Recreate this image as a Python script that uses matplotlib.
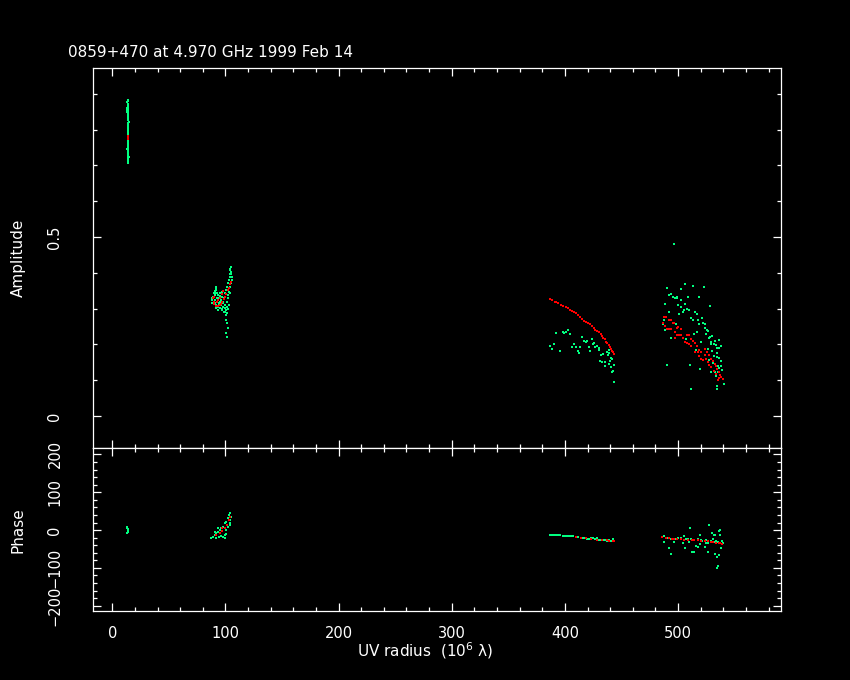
import matplotlib
matplotlib.use("Agg")
import matplotlib.pyplot as plt
from matplotlib.ticker import MultipleLocator
import numpy as np

title = "0859+470 at 4.970 GHz 1999 Feb 14"

# ---------------- Amplitude panel data (UV radius in 1e6 lambda, amplitude) ----------------
# cluster A (short baselines)
ampA_obs_x = [13.5, 14.0, 13.2, 13.8, 14.0, 13.2, 13.2, 13.2, 13.9, 13.9, 14.0, 14.0, 14.3, 14.5, 14.2,
              14.3, 14.3, 14.3, 14.3, 14.3, 14.3, 14.3, 14.3, 14.3, 14.3, 14.3, 14.3, 13.4, 14.3, 14.3,
              13.5, 14.0, 14.4, 13.5, 14.2, 13.6, 14.2, 13.8,
              14.0, 14.0, 14.0, 14.1, 14.1, 14.2, 14.3, 14.3, 14.3, 14.3, 14.3, 14.3, 14.3, 14.3,
              14.3, 14.3, 14.3, 14.3, 14.3, 14.3, 14.2]
ampA_obs_y = [0.883, 0.880, 0.877, 0.872, 0.867, 0.860, 0.855, 0.850, 0.857, 0.845, 0.838, 0.832, 0.826,
              0.822, 0.818, 0.812, 0.806, 0.800, 0.794, 0.788, 0.782, 0.776, 0.770, 0.764, 0.758, 0.752,
              0.746, 0.747, 0.740, 0.734, 0.730, 0.727, 0.724, 0.720, 0.717, 0.713, 0.710, 0.708,
              0.869, 0.864, 0.852, 0.841, 0.835, 0.829, 0.815, 0.809, 0.803, 0.797, 0.791, 0.785,
              0.779, 0.773, 0.767, 0.761, 0.755, 0.749, 0.743, 0.737, 0.731]
ampA_mod_x = [13.6, 13.9, 13.7]
ampA_mod_y = [0.781, 0.777, 0.773]

# cluster B
ampB_obs_x = [104.9, 104.4, 103.8, 104.9, 105.5, 103.8, 103.2, 105.5, 102.6, 104.9, 101.4, 103.8, 100.8,
              103.2, 102.3, 99.6, 91.4, 92.0, 90.5, 89.0, 88.4, 89.6, 87.8, 93.1, 94.3, 94.9, 96.4, 97.9,
              99.3, 100.8, 101.4, 96.7, 95.5, 93.7, 92.0, 90.8, 97.9, 99.0, 97.3, 96.7, 94.9, 92.5, 91.4,
              93.1, 94.3, 99.0, 100.2, 100.8, 101.4, 102.0, 100.8, 101.4,
              89.5, 90.5, 91.5, 92.0, 93.0, 95.0, 96.0, 98.0, 99.5, 101.0, 102.0, 103.0, 88.5, 91.0,
              94.0, 97.0, 100.0, 101.0, 102.5, 104.0, 105.0, 104.5]
ampB_obs_y = [0.417, 0.408, 0.398, 0.398, 0.389, 0.389, 0.380, 0.380, 0.371, 0.371, 0.361, 0.361, 0.352,
              0.347, 0.338, 0.343, 0.352, 0.343, 0.338, 0.333, 0.324, 0.319, 0.315, 0.338, 0.329, 0.319,
              0.310, 0.305, 0.301, 0.296, 0.287, 0.296, 0.301, 0.305, 0.310, 0.315, 0.319, 0.329, 0.333,
              0.347, 0.343, 0.329, 0.301, 0.296, 0.310, 0.291, 0.282, 0.268, 0.259, 0.247, 0.231, 0.222,
              0.345, 0.350, 0.360, 0.355, 0.345, 0.335, 0.325, 0.315, 0.310, 0.305, 0.300, 0.310, 0.330,
              0.325, 0.315, 0.300, 0.290, 0.320, 0.330, 0.345, 0.402, 0.412]
ampB_mod_x = [89.0, 89.6, 90.2, 91.4, 93.1, 94.9, 96.1, 97.3, 98.4, 99.6, 100.8, 102.0, 103.2, 103.8,
              104.9, 89.6, 92.5, 93.7, 95.5, 96.7, 97.9]
ampB_mod_y = [0.329, 0.319, 0.312, 0.308, 0.308, 0.310, 0.314, 0.319, 0.327, 0.334, 0.342, 0.351, 0.358,
              0.368, 0.375, 0.333, 0.319, 0.324, 0.329, 0.340, 0.349]

# cluster C
ampC_obs_x = [392.2, 386.8, 388.9, 390.4, 395.7, 398.4, 399.3, 401.0, 402.8, 404.6, 406.3, 408.1, 409.9,
              411.7, 412.8, 413.4, 415.2, 417.0, 418.8, 419.9, 421.7, 422.3, 424.1, 425.0, 425.8, 427.0,
              428.8, 430.0, 430.6, 432.3, 434.1, 437.1, 438.3, 438.8, 439.4, 440.6, 441.8, 431.2, 432.9,
              435.3, 435.9, 438.8, 440.0, 441.2, 443.0, 441.8, 442.4, 443.6]
ampC_obs_y = [0.231, 0.197, 0.188, 0.200, 0.183, 0.235, 0.231, 0.235, 0.240, 0.228, 0.192, 0.200, 0.194,
              0.183, 0.175, 0.192, 0.222, 0.210, 0.206, 0.209, 0.194, 0.181, 0.216, 0.200, 0.203, 0.192,
              0.196, 0.186, 0.190, 0.170, 0.173, 0.180, 0.170, 0.177, 0.184, 0.163, 0.160, 0.155, 0.151,
              0.151, 0.140, 0.145, 0.153, 0.138, 0.142, 0.123, 0.127, 0.094]
ampC_mod_x = [386.8, 388.5, 390.9, 392.5, 394.2, 396.5, 398.6, 400.6, 402.8, 404.5, 406.3, 408.0, 409.9,
              411.6, 413.4, 415.2, 417.0, 418.8, 420.5, 422.3, 424.1, 425.5, 427.0, 428.5, 430.0, 431.5,
              432.9, 434.1, 435.3, 436.5, 437.6, 438.8, 440.0, 441.0, 441.8, 442.5, 443.0]
ampC_mod_y = [0.326, 0.324, 0.320, 0.318, 0.315, 0.311, 0.307, 0.304, 0.301, 0.297, 0.293, 0.290, 0.287,
              0.282, 0.276, 0.271, 0.266, 0.263, 0.259, 0.256, 0.253, 0.246, 0.240, 0.237, 0.234, 0.229,
              0.223, 0.219, 0.214, 0.208, 0.203, 0.199, 0.194, 0.188, 0.182, 0.178, 0.173]

# cluster D
ampD_obs_x = [496.7, 489.9, 491.7, 493.5, 495.2, 497.0, 498.8, 499.4, 502.9, 506.5, 509.1, 513.0, 518.9,
              523.3, 488.1, 500.3, 502.3, 502.9, 505.3, 508.2, 510.0, 506.5, 492.3, 501.2, 504.1, 515.3,
              516.5, 528.3, 511.8, 513.6, 517.7, 521.2, 518.9, 521.8, 523.6, 487.9, 486.4, 488.7, 498.2,
              523.6, 525.4, 526.6, 517.1, 524.8, 514.4, 530.1, 528.3, 527.2, 494.1, 507.1, 533.1, 536.6,
              529.5, 532.2, 533.7, 534.8, 536.6, 537.8, 528.9, 520.7, 515.9, 526.3, 530.1, 534.8, 531.9,
              534.3, 536.6, 527.7, 538.4, 530.7, 535.4, 538.4, 536.6, 539.0, 532.5, 535.4, 529.5, 533.7,
              540.2, 490.5, 510.6, 519.5, 534.3, 534.8, 511.8]
ampD_obs_y = [0.480, 0.357, 0.338, 0.340, 0.334, 0.329, 0.332, 0.331, 0.355, 0.368, 0.334, 0.364, 0.332,
              0.361, 0.312, 0.310, 0.323, 0.304, 0.297, 0.299, 0.297, 0.312, 0.291, 0.284, 0.291, 0.291,
              0.286, 0.308, 0.273, 0.269, 0.269, 0.275, 0.258, 0.260, 0.258, 0.267, 0.256, 0.241, 0.256,
              0.245, 0.241, 0.237, 0.236, 0.230, 0.228, 0.224, 0.221, 0.217, 0.217, 0.215, 0.210, 0.213,
              0.208, 0.200, 0.198, 0.191, 0.191, 0.196, 0.200, 0.206, 0.185, 0.187, 0.182, 0.176, 0.169,
              0.165, 0.161, 0.156, 0.154, 0.148, 0.141, 0.141, 0.135, 0.128, 0.124, 0.122, 0.122, 0.111,
              0.089, 0.142, 0.142, 0.131, 0.085, 0.076, 0.077]
ampD_mod_x = [487.9, 489.3, 486.4, 488.7, 491.7, 493.5, 495.2, 496.7, 489.9, 492.3, 494.1, 497.6, 498.8,
              500.3, 502.3, 502.9, 497.0, 498.8, 500.6, 504.7, 506.5, 508.2, 510.0, 509.4, 511.8, 513.0,
              514.7, 516.5, 518.3, 520.1, 523.6, 525.4, 527.2, 528.9, 530.7, 532.5, 533.7, 534.8, 536.0,
              537.2, 538.4, 539.6, 535.4, 523.6, 524.8, 526.6, 527.7, 529.5, 531.9, 533.7, 536.0, 514.7,
              517.7, 518.9, 520.7, 522.4, 511.2, 507.7]
ampD_mod_y = [0.277, 0.277, 0.260, 0.252, 0.267, 0.267, 0.260, 0.260, 0.243, 0.243, 0.243, 0.234, 0.245,
              0.250, 0.243, 0.226, 0.217, 0.226, 0.226, 0.217, 0.208, 0.226, 0.226, 0.200, 0.215, 0.210,
              0.204, 0.195, 0.185, 0.178, 0.187, 0.180, 0.172, 0.159, 0.154, 0.146, 0.139, 0.131, 0.124,
              0.116, 0.109, 0.103, 0.100, 0.170, 0.159, 0.152, 0.144, 0.137, 0.126, 0.118, 0.107, 0.178,
              0.178, 0.169, 0.159, 0.156, 0.197, 0.204]

# ---------------- Phase panel data (degrees) ----------------
phsA_obs_x = [13.3, 13.9, 14.2, 13.6, 12.7, 13.0]
phsA_obs_y = [7.9, 2.6, -2.7, -6.2, -8.9, 4.4]

phsB_obs_x = [87.5, 89.0, 90.4, 91.9, 93.4, 94.9, 96.3, 97.8, 99.3, 100.8, 102.2, 103.1, 103.7, 104.3,
              105.2, 97.8, 99.3, 96.3, 100.8, 100.8, 102.2, 103.7, 104.3, 91.3, 94.3, 90.4, 93.4, 94.9, 99.3]
phsB_obs_y = [-22.1, -17.7, -13.3, -8.9, -4.5, 0.0, 4.4, 8.8, 17.6, 22.0, 30.8, 39.6, 44.0, 26.4, 35.2,
              -17.7, -13.3, -15.0, -11.5, 0.0, 8.8, 13.2, 17.6, -20.3, -17.7, -4.5, 4.4, -8.9, -22.1]
phsB_mod_x = [91.9, 94.9, 97.2, 99.3, 101.4, 103.1, 104.3, 96.6]
phsB_mod_y = [-13.3, -8.9, -2.7, 4.4, 13.2, 26.4, 35.2, 4.4]

phsC_obs_x = [386.8, 388.6, 390.4, 392.2, 393.9, 395.7, 398.7, 400.4, 402.2, 404.0, 405.7, 407.5, 409.6,
              411.7, 414.0, 415.8, 417.6, 419.3, 421.1, 422.9, 424.7, 426.4, 428.2, 430.0, 431.8, 433.5,
              435.3, 437.1, 438.8, 440.6, 442.4, 443.0]
phsC_obs_y = [-14, -14, -14, -14, -14, -14, -17, -17, -17, -17, -17, -17, -18.5, -19.4, -22, -22, -20,
              -23, -23, -22, -22, -23, -22, -26, -25, -27, -25, -29, -26, -30, -23, -29]
phsC_mod_x = [409.9, 414.0, 418.7, 422.9, 428.8, 433.2, 437.1, 439.1, 442.4, 443.6]
phsC_mod_y = [-19, -20, -21, -23, -25, -26, -26.5, -28, -29, -28]

phsD_obs_x = [486.1, 487.9, 487.9, 489.1, 490.9, 492.3, 493.8, 496.8, 498.2, 499.7, 502.7, 504.1, 505.0,
              506.5, 508.6, 509.5, 510.9, 511.5, 512.1, 514.5, 516.0, 517.4, 517.4, 519.2, 519.8, 521.6,
              523.4, 523.4, 525.1, 526.3, 527.8, 529.3, 530.2, 531.3, 531.6, 532.8, 533.1, 534.6, 535.2,
              535.8, 536.4, 536.9, 537.5, 538.1, 538.7, 539.6, 534.6, 535.2, 526.3, 532.2, 493.8, 507.1,
              513.0, 520.4, 524.8, 533.7, 536.7]
phsD_obs_y = [-19.4, -15.0, -31.8, -21.2, -22.1, -48.5, -63.5, -31.8, -23.0, -22.1, -22.1, -35.3, -15.0,
              -46.7, -23.0, -32.6, 4.4, -23.0, -58.2, -58.2, -41.5, -44.1, -23.0, -36.2, -14.1, -29.1,
              -44.1, -28.2, -35.3, -57.3, 12.3, -29.1, -8.8, -23.0, -14.1, -14.1, -64.4, -70.6, -31.8,
              -3.5, -67.0, 0.0, -14.1, -48.5, -29.1, -35.3, -100.5, -95.3, -33.5, -31.8, -23.0, -24.0,
              -25.0, -26.5, -27.4, -30.0, -33.5]
phsD_mod_x = [486.1, 489.7, 492.3, 494.4, 496.8, 499.1, 502.7, 505.6, 508.6, 512.1, 514.5, 518.0, 520.4,
              523.4, 526.3, 528.7, 531.0, 533.4, 535.8, 537.5, 538.7]
phsD_mod_y = [-19.4, -22.1, -22.1, -23.8, -24.7, -24.7, -24.7, -25.6, -26.5, -27.3, -27.3, -27.3, -28.2,
              -28.2, -30.0, -30.9, -31.8, -33.5, -35.3, -35.3, -36.2]

# ---------------- styling ----------------
BG = "black"
FG = "white"
OBS_COLOR = "#00ff80"
MOD_COLOR = "#ff0000"

plt.rcParams["font.family"] = ["DejaVu Sans"]

fig = plt.figure(figsize=(8.5, 6.8), dpi=100, facecolor=BG)
W, H = 850.0, 680.0
left, right = 93 / W, 781 / W
ax_amp = fig.add_axes([left, 1 - 448 / H, right - left, (448 - 68) / H], facecolor=BG)
ax_phs = fig.add_axes([left, 1 - 611 / H, right - left, (611 - 448) / H], facecolor=BG)

ms = 2.0


def pts(ax, xs, ys, color):
    ax.plot(xs, ys, linestyle="none", marker="s", markersize=ms, markeredgewidth=0,
            color=color, zorder=3)


for xs, ys in [(ampA_obs_x, ampA_obs_y), (ampB_obs_x, ampB_obs_y),
               (ampC_obs_x, ampC_obs_y), (ampD_obs_x, ampD_obs_y)]:
    pts(ax_amp, xs, ys, OBS_COLOR)
for xs, ys in [(ampA_mod_x, ampA_mod_y), (ampB_mod_x, ampB_mod_y),
               (ampC_mod_x, ampC_mod_y), (ampD_mod_x, ampD_mod_y)]:
    pts(ax_amp, xs, ys, MOD_COLOR)
for xs, ys in [(phsA_obs_x, phsA_obs_y), (phsB_obs_x, phsB_obs_y),
               (phsC_obs_x, phsC_obs_y), (phsD_obs_x, phsD_obs_y)]:
    pts(ax_phs, xs, ys, OBS_COLOR)
for xs, ys in [(phsB_mod_x, phsB_mod_y), (phsC_mod_x, phsC_mod_y), (phsD_mod_x, phsD_mod_y)]:
    pts(ax_phs, xs, ys, MOD_COLOR)

xlim = (-17, 591)
ax_amp.set_xlim(*xlim)
ax_phs.set_xlim(*xlim)
ax_amp.set_ylim(-0.089, 0.972)
ax_phs.set_ylim(-214, 217)

for ax in (ax_amp, ax_phs):
    for sp in ax.spines.values():
        sp.set_color(FG)
        sp.set_linewidth(0.9)
    ax.xaxis.set_major_locator(MultipleLocator(100))
    ax.xaxis.set_minor_locator(MultipleLocator(20))
    ax.tick_params(which="both", direction="in", colors=FG, top=True, right=True,
                   bottom=True, left=True, width=0.9)
    ax.tick_params(which="major", length=6)
    ax.tick_params(which="minor", length=3)
    ax.tick_params(axis="both", labelsize=10.5, labelcolor=FG)

ax_amp.yaxis.set_major_locator(MultipleLocator(0.5))
ax_amp.yaxis.set_minor_locator(MultipleLocator(0.1))
ax_amp.set_yticks([0, 0.5])
ax_amp.set_yticklabels(["0", "0.5"])
ax_amp.tick_params(axis="x", labelbottom=False)
ax_amp.tick_params(axis="y", pad=22)
for lab in ax_amp.get_yticklabels():
    lab.set_rotation(90)
    lab.set_va("center")

ax_phs.yaxis.set_major_locator(MultipleLocator(100))
ax_phs.yaxis.set_minor_locator(MultipleLocator(20))
ax_phs.set_yticks([-200, -100, 0, 100, 200])
ax_phs.set_yticklabels(["\u2212200", "\u2212100", "0", "100", "200"])
ax_phs.tick_params(axis="y", pad=22)
ax_phs.tick_params(axis="x", pad=11)
for lab in ax_phs.get_yticklabels():
    lab.set_rotation(90)
    lab.set_va("center")

fig.text(18 / W, 1 - 258 / H, "Amplitude", color=FG, fontsize=11, rotation=90,
         ha="center", va="center")
fig.text(18 / W, 1 - 530 / H, "Phase", color=FG, fontsize=11, rotation=90,
         ha="center", va="center")
fig.text(425 / W, 1 - 651 / H, "UV radius  (10$^{6}$ \u03bb)", color=FG, fontsize=11,
         ha="center", va="center")
fig.text(68 / W, 1 - 57 / H, title, color=FG, fontsize=11, ha="left", va="baseline")

fig.savefig("out.png", dpi=100, facecolor=BG)
